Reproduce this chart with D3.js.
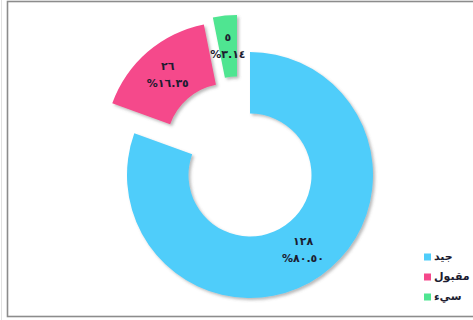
<!DOCTYPE html>
<html lang="ar">
<head>
<meta charset="utf-8">
<script src="https://cdn.jsdelivr.net/npm/d3@7"></script>
<style>
  html, body { margin: 0; padding: 0; background: #ffffff; }
  svg { display: block; }
  text { font-family: "DejaVu Sans", sans-serif; }
</style>
</head>
<body>
<svg id="chart" width="473" height="320"></svg>
<script>
// Ratings and their counts
const categories = ["جيد", "مقبول", "سيء"];
const counts = [128, 26, 5];
const colors = ["#4fcdfa", "#f5488b", "#4fe591"];

// Layout
const W = 473, H = 320;
const cx = 250, cy = 175;
const outerR = 123, innerR = 61.5;
// Pulled-out slices (dx, dy) per category index
const explode = [[0, 0], [-22, -30], [-13, -37]];

const svg = d3.select("#chart");

// Soft drop shadow under the slices
const defs = svg.append("defs");
const f = defs.append("filter").attr("id", "shadow")
  .attr("x", "-20%").attr("y", "-20%").attr("width", "140%").attr("height", "140%");
f.append("feDropShadow").attr("dx", 2).attr("dy", 2).attr("stdDeviation", 1.5)
  .attr("flood-color", "#666").attr("flood-opacity", 0.45);

// Frame
svg.append("line").attr("x1", 1.5).attr("x2", 1.5).attr("y1", 0).attr("y2", H)
  .attr("stroke", "#e2e2e2").attr("stroke-width", 1);
svg.append("rect").attr("x", 7.5).attr("y", 1.5).attr("width", W + 10).attr("height", 315)
  .attr("fill", "none").attr("stroke", "#8c8c8c").attr("stroke-width", 1.6);

const total = d3.sum(counts);
const data = categories.map((c, i) => ({ cat: c, value: counts[i], i }));

const pie = d3.pie().sort(null).value(d => d.value);
const arc = d3.arc().innerRadius(innerR).outerRadius(outerR);
const arcs = pie(data);

// Arabic-Indic digits
const toArabicDigits = s => s.replace(/[0-9]/g, d => "٠١٢٣٤٥٦٧٨٩"[+d]);

const g = svg.append("g").attr("transform", `translate(${cx},${cy})`);

const slice = g.selectAll("g.slice").data(arcs).enter().append("g")
  .attr("class", "slice")
  .attr("transform", d => `translate(${explode[d.data.i][0]},${explode[d.data.i][1]})`);

slice.append("path")
  .attr("d", arc)
  .attr("fill", d => colors[d.data.i])
  .attr("filter", "url(#shadow)");

slice.each(function (d) {
  const [x, y] = arc.centroid(d);
  const sel = d3.select(this);
  const pct = (d.data.value / total * 100).toFixed(2);
  sel.append("text")
    .attr("x", x).attr("y", y - 8.5)
    .attr("text-anchor", "middle").attr("dominant-baseline", "middle")
    .attr("font-size", 11).attr("font-weight", "bold").attr("fill", "#1c1c30")
    .text(toArabicDigits(String(d.data.value)));
  sel.append("text")
    .attr("x", x).attr("y", y + 8.5)
    .attr("text-anchor", "middle").attr("dominant-baseline", "middle")
    .attr("font-size", 11).attr("font-weight", "bold").attr("fill", "#1c1c30")
    .text("%" + toArabicDigits(pct));
});

// Legend
const legend = svg.append("g").attr("transform", "translate(424,257)");
const item = legend.selectAll("g").data(data).enter().append("g")
  .attr("transform", (d, i) => `translate(0,${i * 20})`);
item.append("rect").attr("x", 0).attr("y", -3.5).attr("width", 7).attr("height", 7)
  .attr("fill", d => colors[d.i]);
item.append("text").attr("x", 10).attr("y", 0)
  .attr("dominant-baseline", "middle")
  .attr("font-size", 11).attr("font-weight", "bold").attr("fill", "#1c1c30")
  .text(d => d.cat);
</script>
</body>
</html>
